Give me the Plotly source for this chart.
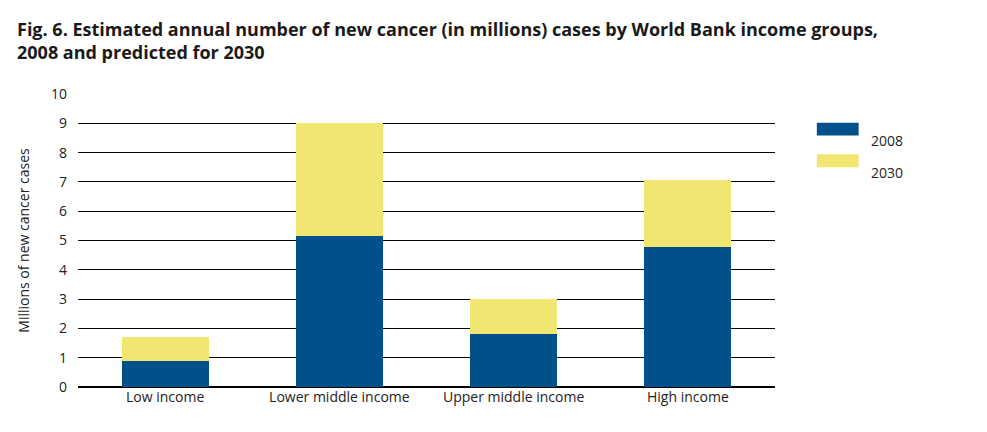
import plotly.graph_objects as go

categories = ["Low income", "Lower middle income", "Upper middle income", "High income"]
cases_2008 = [0.88, 5.15, 1.8, 4.78]
increase_2030 = [0.82, 3.85, 1.2, 2.27]
series_names = ["2008", "2030"]
colors = ["#00508a", "#f2e673"]

fig = go.Figure()
fig.add_bar(x=categories, y=cases_2008, name=series_names[0], marker_color=colors[0], marker_line_width=0)
fig.add_bar(x=categories, y=increase_2030, name=series_names[1], marker_color=colors[1], marker_line_width=0)

fig.update_layout(
    barmode="stack", bargap=0.5, showlegend=False,
    width=987, height=432,
    margin=dict(l=70, r=220, t=86, b=53),
    plot_bgcolor="white", paper_bgcolor="white",
    font=dict(family="Open Sans", size=14, color="#222"),
    yaxis=dict(range=[0, 10], dtick=1, showgrid=True, gridcolor="#000", gridwidth=1,
               zeroline=True, zerolinecolor="#000", ticks="", ticklabelstandoff=10,
               title=dict(text="Millions of new cancer cases", font=dict(size=14), standoff=18)),
    xaxis=dict(showline=False, ticks="", tickfont=dict(size=14)),
)
fig.add_annotation(xref="paper", yref="paper", x=-0.09, y=1.27, xanchor="left", yanchor="top",
                   align="left", showarrow=False,
                   text="<b>Fig. 6. Estimated annual number of new cancer (in millions) cases by World Bank income groups,<br>2008 and predicted for 2030</b>",
                   font=dict(size=18, color="#1a1a1a", family="Open Sans"))
for i, (name, c) in enumerate(zip(series_names, colors)):
    y = 0.88 - i * 0.108
    fig.add_shape(type="rect", xref="paper", yref="paper", x0=1.06, x1=1.12, y0=y - 0.022, y1=y + 0.022,
                  fillcolor=c, line_width=0)
    fig.add_annotation(xref="paper", yref="paper", x=1.135, y=y, text=name, showarrow=False,
                       xanchor="left", font=dict(size=14))
fig.write_html("out.html")
